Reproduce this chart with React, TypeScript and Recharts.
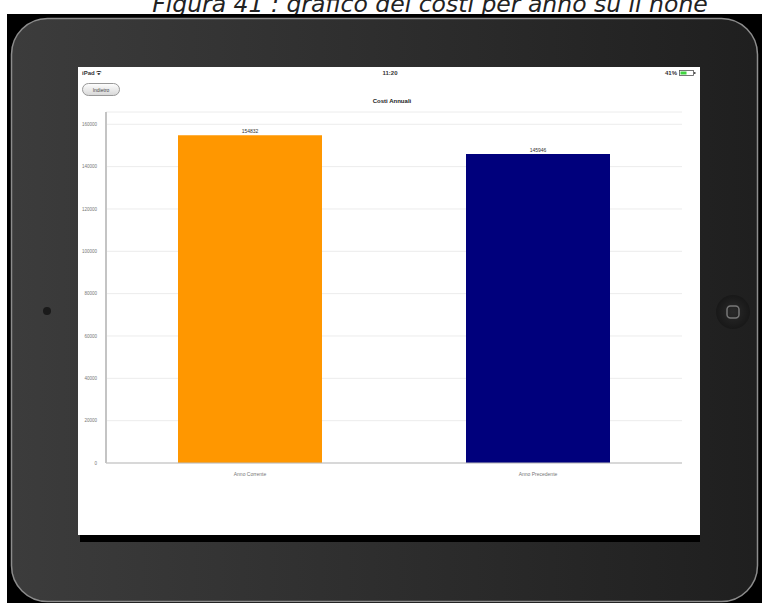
import { BarChart, Bar, XAxis, YAxis, CartesianGrid, LabelList, Cell } from "recharts";

const categories = ["Anno Corrente", "Anno Precedente"];
const costs = [154832, 145946];
const barColors = ["#ff9700", "#00007c"];
const yTicks = [0, 20000, 40000, 60000, 80000, 100000, 120000, 140000, 160000];
const yMax = 165800;

const data = categories.map((name, i) => ({ name, costo: costs[i] }));

const sans = "'Liberation Sans', Arial, sans-serif";

function Frame() {
  return (
    <svg width={762} height={603} style={{ position: "absolute", left: 0, top: 0 }}>
      <defs>
        <linearGradient id="body" x1="0" x2="1" y1="0" y2="0">
          <stop offset="0" stopColor="#3c3c3c" />
          <stop offset="1" stopColor="#1f1f1f" />
        </linearGradient>
        <radialGradient id="home" cx="0.5" cy="0.5" r="0.5">
          <stop offset="0" stopColor="#2a2a2a" />
          <stop offset="1" stopColor="#181818" />
        </radialGradient>
        <linearGradient id="btn" x1="0" x2="0" y1="0" y2="1">
          <stop offset="0" stopColor="#ffffff" />
          <stop offset="1" stopColor="#d6d6d6" />
        </linearGradient>
      </defs>
      <text
        x={430}
        y={12}
        textAnchor="middle"
        fontSize={23.5}
        fontStyle="italic"
        fontFamily="'DejaVu Sans', Verdana, sans-serif"
        fill="#222"
      >
        Figura 41 : grafico dei costi per anno su il none
      </text>
      <rect x={7} y={14} width={755} height={589} fill="#000" />
      <rect x={11.5} y={18.5} width={746} height={583} rx={36} fill="url(#body)" stroke="#8c8c8c" strokeWidth={1.5} />
      <rect x={80} y={535} width={620} height={7} fill="#000" />
      <rect x={78} y={67} width={622} height={468} fill="#fff" />
      <circle cx={47} cy={311} r={4} fill="#1a1a1a" />
      <circle cx={733} cy={312} r={17} fill="url(#home)" />
      <rect x={727} y={306} width={12} height={12} rx={3.5} fill="none" stroke="#777" strokeWidth={1.5} />

      {/* status bar */}
      <text x={82} y={75} fontSize={6} fontWeight="bold" fontFamily={sans} fill="#333">iPad ᯤ</text>
      <text x={390} y={75} textAnchor="middle" fontSize={6} fontWeight="bold" fontFamily={sans} fill="#333">11:20</text>
      <text x={677} y={75} textAnchor="end" fontSize={6} fontWeight="bold" fontFamily={sans} fill="#333">41%</text>
      <rect x={679.5} y={70.5} width={14} height={5} fill="#fff" stroke="#555" strokeWidth={0.8} />
      <rect x={680.5} y={71.5} width={6} height={3} fill="#3fd43f" />
      <rect x={694} y={72} width={1.5} height={2} fill="#555" />

      {/* back button */}
      <rect x={82.5} y={83.5} width={37} height={12} rx={6} fill="url(#btn)" stroke="#999" />
      <text x={101} y={91.5} textAnchor="middle" fontSize={5} fontFamily={sans} fill="#444">Indietro</text>

      <text x={392} y={103} textAnchor="middle" fontSize={6} fontWeight="bold" fontFamily={sans} fill="#222">Costi Annuali</text>
    </svg>
  );
}

export default function App() {
  return (
    <div style={{ position: "absolute", left: 0, top: 0, width: 762, height: 603, background: "#fff", overflow: "hidden" }}>
      <Frame />
      <div style={{ position: "absolute", left: 78, top: 107 }}>
        <BarChart
          width={622}
          height={370}
          data={data}
          margin={{ top: 5, right: 18, bottom: 0, left: 0 }}
          barCategoryGap="25%"
          style={{ fontFamily: sans }}
        >
          <CartesianGrid vertical={false} stroke="#ececec" />
          <XAxis
            dataKey="name"
            interval={0}
            height={14}
            tickLine={false}
            tickMargin={3}
            axisLine={{ stroke: "#bbb" }}
            tick={{ fontSize: 5, fill: "#777" }}
          />
          <XAxis
            xAxisId="top"
            orientation="top"
            dataKey="name"
            height={0}
            tick={false}
            tickLine={false}
            axisLine={{ stroke: "#ccc" }}
          />
          <YAxis
            domain={[0, yMax]}
            ticks={yTicks}
            allowDataOverflow
            width={28}
            tickLine={false}
            tickMargin={3}
            axisLine={{ stroke: "#c4c4c4", strokeWidth: 2 }}
            tick={{ fontSize: 4.5, fill: "#777" }}
          />
          <YAxis
            yAxisId="r"
            orientation="right"
            domain={[0, yMax]}
            width={0}
            tick={false}
            tickLine={false}
            axisLine={{ stroke: "#ccc" }}
          />
          <Bar dataKey="costo" isAnimationActive={false}>
            {data.map((d, i) => (
              <Cell key={d.name} fill={barColors[i]} />
            ))}
            <LabelList dataKey="costo" position="top" offset={2} fontSize={5} fill="#333" />
          </Bar>
        </BarChart>
      </div>
    </div>
  );
}
